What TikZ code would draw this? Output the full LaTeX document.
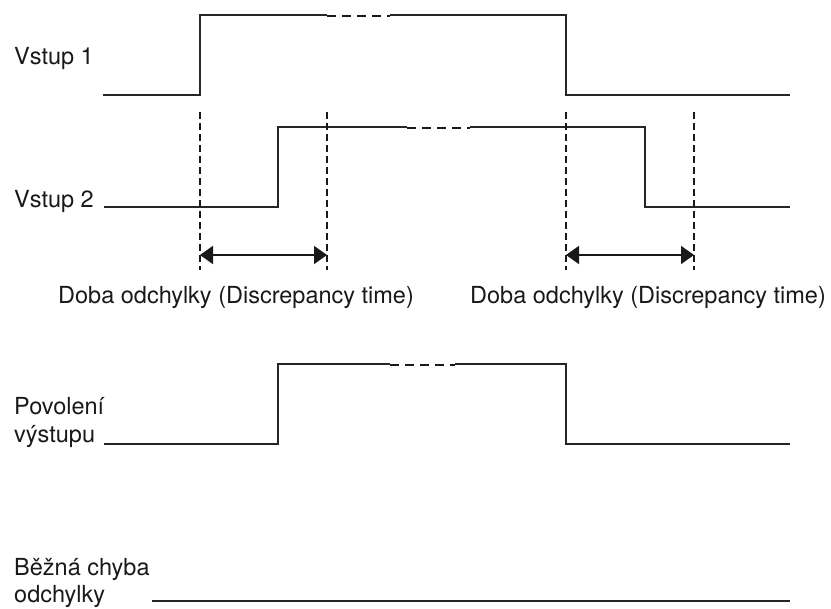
\documentclass[tikz,border=0pt]{standalone}
\usepackage{fontspec}
\setmainfont{TeX Gyre Heros}
\usepackage{xcolor}
\usepackage{tikz}
\usetikzlibrary{arrows.meta,positioning,calc}

\begin{document}
\begin{tikzpicture}[
  x=1pt, y=-1pt,
  lbl/.style={anchor=base west, inner sep=0pt, align=left,
              font=\fontsize{23.5}{28}\selectfont, text=black!90},
  sig/.style={draw=black!85, line width=1.9pt},
  gap/.style={draw=black!90, line width=2pt, dash pattern=on 9pt off 6pt},
  marker/.style={draw=black!90, line width=1.3pt, dash pattern=on 7pt off 4pt},
  span/.style={draw=black!90, line width=1.8pt,
               {Triangle[length=13pt,width=18pt]}-{Triangle[length=13pt,width=18pt]}}
]
\useasboundingbox (0,0) rectangle (831,609);

% Labels
\node[lbl] (in1) at (14,65) {Vstup 1};
\node[lbl] (in2) at (14,208) {Vstup 2};
\node[lbl] (en)  at (14,443) {Povolení\\výstupu};
\node[lbl] (err) at (14,603) {Běžná chyba\\odchylky};
\node[lbl] (dt1) at (58,304) {Doba odchylky (Discrepancy time)};
\node[lbl] (dt2) at (470,304) {Doba odchylky (Discrepancy time)};

% Vstup 1
\draw[sig] (103,95) -- (200,95) -- (200,15) -- (327,15);
\draw[gap] (327,16.5) -- (390,16.5);
\draw[sig] (390,15) -- (566,15) -- (566,95) -- (790,95);

% Vstup 2
\draw[sig] (104,207) -- (278,207) -- (278,127) -- (407,127);
\draw[gap] (407,128.5) -- (470,128.5);
\draw[sig] (470,127) -- (645,127) -- (645,207) -- (790,207);

% Povoleni vystupu
\draw[sig] (104,444) -- (278,444) -- (278,364) -- (390,364);
\draw[gap] (390,365.5) -- (455,365.5);
\draw[sig] (455,364) -- (566,364) -- (566,444) -- (790,444);

% Bezna chyba odchylky
\draw[sig] (152,601) -- (790,601);

% Markers
\foreach \n/\x in {m1/200,m2/327,m3/566,m4/694} {
  \coordinate (\n t) at (\x,112);
  \coordinate (\n b) at (\x,270);
  \coordinate (\n a) at (\x,255);
  \draw[marker] (\n t) -- (\n b);
}

% Discrepancy time
\draw[span] (m1a) -- (m2a);
\draw[span] (m3a) -- (m4a);

\end{tikzpicture}
\end{document}
